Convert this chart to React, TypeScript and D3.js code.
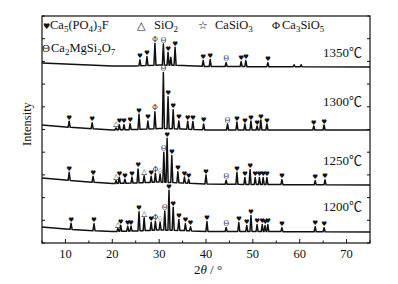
import React from "react";
import * as d3 from "d3";

const W = 398;
const H = 284;

const xTicks = [10, 20, 30, 40, 50, 60, 70];
const xMinorTicks = [5, 15, 25, 35, 45, 55, 65, 75];
const tempLabels = ["1350℃", "1300℃", "1250℃", "1200℃"];
const labelLevels = [186, 137, 78, 32];

// background (2θ, intensity a.u.)
const bg1350: [number, number][] = [[5, 180], [10, 179], [20, 177], [25, 177], [30, 178], [35, 177.5], [40, 176.5], [75, 176]];
const bg1300: [number, number][] = [[5, 118], [10, 116], [15, 114.5], [20, 113], [25, 113.5], [30, 114.5], [35, 114], [40, 113], [75, 113]];
const bg1250: [number, number][] = [[5, 65], [10, 63], [15, 61], [20, 59.5], [25, 60], [30, 61], [35, 60], [40, 59], [50, 58.5], [75, 58]];
const bg1200: [number, number][] = [[5, 16], [10, 14], [15, 12.5], [20, 11.5], [25, 12], [30, 13], [35, 12.5], [40, 11.5], [50, 11.5], [75, 11]];

// peaks: [2θ, height, phase marker]
// h = Ca5(PO4)3F, t = SiO2, s = CaSiO3, F = Ca3SiO5, T = Ca2MgSi2O7
const peaks1350: [number, number, string][] = [
  [25.9, 6, "h"], [27.4, 9, "h"], [29.1, 22, "F"], [30.9, 21, "T"], [31.9, 13, "h"], [32.5, 8, ""],
  [33.4, 18, "h"], [39.4, 6, "h"], [40.9, 7, "h"], [44.3, 4, "T"], [47.5, 5, "h"], [48.5, 6, "h"],
  [53.2, 4, "h"], [58.8, 2, ""], [60.3, 2, ""],
];
const peaks1300: [number, number, string][] = [
  [10.8, 6, "h"], [15.7, 6, "h"], [20.8, 2, "t"], [21.5, 5, "h"], [22.5, 5, "h"], [23.8, 6, "h"],
  [25.7, 15, "h"], [27.6, 8, "h"], [29.1, 17, "F"], [30.9, 56, "T"], [31.9, 32, "h"], [33.0, 19, "h"],
  [34.2, 8, "h"], [36.1, 8, "h"], [37.2, 8, "h"], [39.5, 6, "h"], [44.6, 6, "T"], [46.6, 8, "h"],
  [48.3, 6, "h"], [49.6, 9, "h"], [50.9, 4, "h"], [51.7, 10, "h"], [53.0, 6, "h"], [63.0, 4, "h"],
  [65.2, 5, "h"],
];
const peaks1250: [number, number, string][] = [
  [10.8, 8, "h"], [15.9, 6, "h"], [20.8, 3, "t"], [21.5, 6, "h"], [22.7, 4, "h"], [24.2, 6, "h"],
  [25.5, 14, "h"], [26.8, 7, "t"], [28.3, 6, "h"], [29.2, 9, "F"], [30.2, 8, "s"], [31.0, 30, "T"],
  [31.7, 44, "h"], [32.7, 27, "h"], [34.0, 11, "h"], [35.4, 6, "h"], [36.3, 4, "h"], [40.0, 9, "h"],
  [44.3, 4, "T"], [46.6, 12, "h"], [48.3, 7, "h"], [49.4, 15, "h"], [50.5, 7, "h"], [51.4, 7, "h"],
  [52.2, 7, "h"], [53.0, 7, "h"], [56.2, 5, "h"], [63.3, 4, "h"], [65.4, 5, "h"],
];
const peaks1200: [number, number, string][] = [
  [11.2, 6, "h"], [16.1, 7, "h"], [21.2, 3, "t"], [21.8, 6, "h"], [23.3, 5, "h"], [24.0, 5, "h"],
  [25.7, 19, "h"], [26.8, 13, "t"], [28.3, 8, "h"], [29.2, 9, "F"], [30.2, 8, "s"], [31.2, 19, "T"],
  [32.1, 40, "h"], [33.0, 23, "h"], [34.2, 11, "h"], [35.6, 7, "h"], [36.7, 4, "h"], [40.2, 10, "h"],
  [44.3, 4, "T"], [47.0, 9, "h"], [48.7, 6, "h"], [49.6, 16, "h"], [50.9, 7, "h"], [52.0, 7, "h"],
  [52.6, 6, "h"], [53.2, 7, "h"], [56.2, 4, "h"], [63.3, 5, "h"], [65.2, 4, "h"],
];

const traces = [
  { bg: bg1350, peaks: peaks1350 },
  { bg: bg1300, peaks: peaks1300 },
  { bg: bg1250, peaks: peaks1250 },
  { bg: bg1200, peaks: peaks1200 },
];

const glyph: Record<string, string> = { h: "♥", t: "△", s: "☆", F: "Φ", T: "Θ" };

const serif = "'Liberation Serif', 'Times New Roman', serif";
const symFont = "'DejaVu Sans', sans-serif";

export default function App() {
  const left = 42, right = 370, top = 16, bottom = 243;
  const x = d3.scaleLinear().domain([5, 75]).range([left, right]);
  const y = d3.scaleLinear().domain([0, 227]).range([bottom, top]);
  const hw = 0.22;

  const built = traces.map((t) => {
    const bgS = d3.scaleLinear().domain(t.bg.map((d) => d[0])).range(t.bg.map((d) => d[1]));
    const xsSet = new Set<number>();
    t.bg.forEach((d) => xsSet.add(d[0]));
    t.peaks.forEach((p) => { xsSet.add(p[0] - hw); xsSet.add(p[0]); xsSet.add(p[0] + hw); });
    const xs = Array.from(xsSet).filter((v) => v >= 5 && v <= 75).sort((a, b) => a - b);
    const total = (v: number) => {
      let s = bgS(v);
      t.peaks.forEach((p) => {
        const dd = Math.abs(v - p[0]);
        if (dd < hw) s += p[1] * (1 - dd / hw);
      });
      return s;
    };
    const pts: [number, number][] = xs.map((v) => [v, total(v)]);
    const line = d3.line<[number, number]>().x((d) => x(d[0])).y((d) => y(d[1]));
    const marks = t.peaks.filter((p) => p[2]).map((p) => ({ x: x(p[0]), y: y(total(p[0])), g: p[2] }));
    return { d: line(pts) || "", marks };
  });

  const yTicks = d3.range(0, 228, 22.7);

  const sub = (s: string) => (
    <tspan fontSize={9} dy={3}>{s}</tspan>
  );
  const up = (s: string) => <tspan dy={-3}>{s}</tspan>;

  return (
    <svg width={W} height={H} style={{ position: "absolute", left: 0, top: 0, background: "#fff" }}>
      <rect x={0} y={0} width={W} height={H} fill="#fff" />
      {built.map((b, i) => (
        <path key={i} d={b.d} fill="none" stroke="#111" strokeWidth={1.5} strokeLinejoin="round" />
      ))}
      {built.map((b, i) =>
        b.marks.map((m, j) => (
          <text
            key={`${i}-${j}`}
            x={m.x}
            y={m.y - 1.5}
            textAnchor="middle"
            fontSize={m.g === "h" ? 6.5 : 7.5}
            fontFamily={m.g === "h" || m.g === "t" || m.g === "s" ? symFont : serif}
            fill={m.g === "F" || m.g === "T" ? "#2a2f55" : "#111"}
          >
            {glyph[m.g]}
          </text>
        ))
      )}
      {tempLabels.map((t, i) => (
        <text key={t} x={362} y={y(labelLevels[i])} textAnchor="end" fontSize={13} fontFamily={`${serif}, 'Noto Sans CJK SC'`} fill="#111">
          {t}
        </text>
      ))}
      {/* frame */}
      <rect x={left} y={top} width={right - left} height={bottom - top} fill="none" stroke="#111" strokeWidth={1.2} />
      {xTicks.map((t) => (
        <g key={t}>
          <line x1={x(t)} x2={x(t)} y1={bottom} y2={bottom - 4} stroke="#111" />
          <text x={x(t)} y={257.5} textAnchor="middle" fontSize={12.5} fontFamily={serif} fill="#111">{t}</text>
        </g>
      ))}
      {xMinorTicks.map((t) => (
        <line key={t} x1={x(t)} x2={x(t)} y1={bottom} y2={bottom - 2.5} stroke="#111" />
      ))}
      {yTicks.map((t, i) => (
        <g key={i}>
          <line x1={left} x2={left + 3} y1={y(t)} y2={y(t)} stroke="#111" />
          <line x1={right} x2={right - 3} y1={y(t)} y2={y(t)} stroke="#111" />
        </g>
      ))}
      <text transform="translate(31,124) rotate(-90)" textAnchor="middle" fontSize={12.5} fontFamily={serif} fill="#111">Intensity</text>
      <text x={208} y={274} textAnchor="middle" fontSize={13} fontFamily={serif} fill="#111">
        2<tspan fontStyle="italic">θ</tspan> / °
      </text>
      {/* legend */}
      <g fontFamily={serif} fontSize={12.5} fill="#111">
        <text x={43} y={29} fontSize={8} fontFamily={symFont}>♥</text>
        <text x={50} y={29}>Ca{sub("5")}{up("(PO")}{sub("4")}{up(")")}{sub("3")}{up("F")}</text>
        <text x={137} y={29} fontSize={11} fontFamily={symFont}>△</text>
        <text x={154} y={29}>SiO{sub("2")}</text>
        <text x={198} y={29} fontSize={11} fontFamily={symFont}>☆</text>
        <text x={215} y={29}>CaSiO{sub("3")}</text>
        <text x={272} y={29} fontSize={11}>Φ</text>
        <text x={282} y={29}>Ca{sub("3")}{up("SiO")}{sub("5")}</text>
        <text x={42} y={52} fontSize={11}>Θ</text>
        <text x={51} y={52}>Ca{sub("2")}{up("MgSi")}{sub("2")}{up("O")}{sub("7")}</text>
      </g>
    </svg>
  );
}
